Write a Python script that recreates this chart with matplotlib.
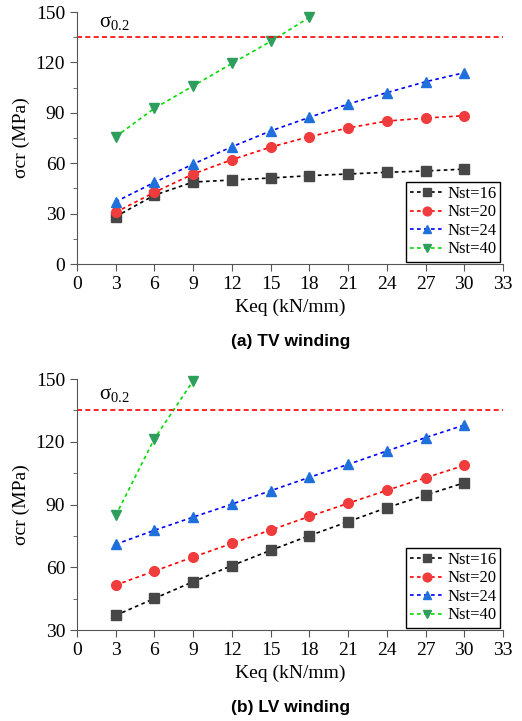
import matplotlib.pyplot as plt
from matplotlib.ticker import MultipleLocator

plt.rcParams['font.family'] = ['Liberation Serif', 'DejaVu Serif']
plt.rcParams['mathtext.fontset'] = 'custom'
plt.rcParams['mathtext.rm'] = 'Liberation Serif'
plt.rcParams['mathtext.default'] = 'rm'

keq = [3, 6, 9, 12, 15, 18, 21, 24, 27, 30]
sigma_02 = 135

# (a) TV winding
tv16 = [28.2, 41, 48.8, 50, 51.2, 52.6, 53.6, 54.6, 55.4, 56.5]
tv20 = [30.8, 42.7, 53.6, 62.1, 69.6, 75.8, 81, 85.1, 86.9, 88.3]
tv24 = [37.1, 48.6, 59.5, 69.8, 79.2, 87.3, 95.2, 102, 108.5, 113.9]
tv40 = [75.8, 92.7, 106, 119.4, 132.5, 146.8]

# (b) LV winding
lv16 = [37, 45.1, 53.1, 60.8, 68.1, 75.1, 81.8, 88.5, 94.5, 100.4]
lv20 = [51.5, 58.2, 64.9, 71.4, 77.8, 84.3, 90.6, 96.8, 102.8, 108.7]
lv24 = [71, 77.7, 84, 90.2, 96.6, 103, 109.2, 115.6, 122, 128]
lv40 = [84.8, 121.5, 149.2]

labels = ['Nst=16', 'Nst=20', 'Nst=24', 'Nst=40']
line_colors = ['black', 'red', 'blue', '#00dd00']
marker_colors = ['#474747', '#f03c3c', '#1f6fdc', '#2e9e5c']
markers = ['s', 'o', '^', 'v']

fig = plt.figure(figsize=(5.22, 7.21), dpi=100)
ax1 = fig.add_axes([0.1475, 0.6338, 0.816, 0.3495])
ax2 = fig.add_axes([0.1475, 0.1262, 0.816, 0.348])


def draw(ax, series, ymin, ymax):
    for i, ys in enumerate(series):
        ax.plot(keq[:len(ys)], ys, linestyle=(0, (2.2, 2)), color=line_colors[i],
                lw=1.2, marker=markers[i], ms=7, mfc=marker_colors[i],
                mec=marker_colors[i], label=labels[i], clip_on=False)
    ax.axhline(sigma_02, color='red', linestyle=(0, (3, 2)), lw=1.2)
    ax.text(1.7, sigma_02 + 3, r'$\sigma_{0.2}$', fontsize=15, va='bottom')
    ax.set_xlim(0, 33)
    ax.set_ylim(ymin, ymax)
    ax.xaxis.set_major_locator(MultipleLocator(3))
    ax.yaxis.set_major_locator(MultipleLocator(30))
    ax.yaxis.set_minor_locator(MultipleLocator(15))
    for s in ['top', 'right']:
        ax.spines[s].set_visible(False)
    for s in ['left', 'bottom']:
        ax.spines[s].set_color('#555555')
    ax.tick_params(which='both', direction='out', colors='#555555', labelcolor='black',
                   labelsize=14)
    ax.tick_params(which='major', length=5)
    ax.tick_params(which='minor', length=3)
    ax.set_xlabel('Keq (kN/mm)', fontsize=14)
    ax.set_ylabel('σcr (MPa)', fontsize=14, labelpad=4)
    leg = ax.legend(loc='lower right', fontsize=12, frameon=True, fancybox=False,
                    edgecolor='black', handlelength=2.0, borderpad=0.25,
                    labelspacing=0.15, handletextpad=0.2, borderaxespad=0.15,
                    markerscale=0.9, framealpha=1)
    leg.get_frame().set_linewidth(1.0)


draw(ax1, [tv16, tv20, tv24, tv40], 0, 150)
draw(ax2, [lv16, lv20, lv24, lv40], 30, 150)

fig.text(0.556, 0.527, '(a) TV winding', ha='center', va='center',
         fontsize=12.5, fontweight='bold', family='Liberation Sans')
fig.text(0.556, 0.0194, '(b) LV winding', ha='center', va='center',
         fontsize=12.5, fontweight='bold', family='Liberation Sans')

fig.savefig('out.png', dpi=100)
